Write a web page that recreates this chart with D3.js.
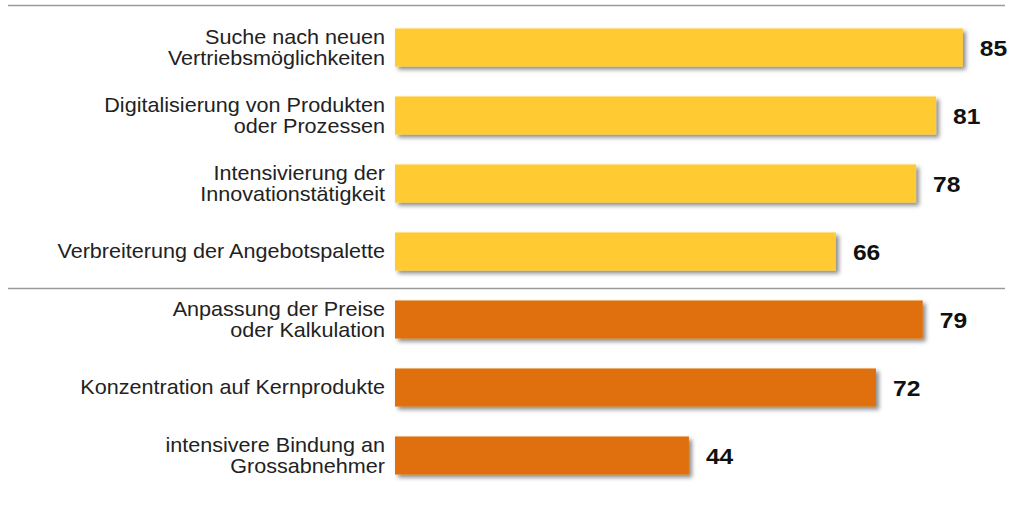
<!DOCTYPE html>
<html>
<head>
<meta charset="utf-8">
<script src="https://cdn.jsdelivr.net/npm/d3@7"></script>
<style>
  body { margin: 0; background: #fff; }
  svg { display: block; font-family: Arial, "Liberation Sans", sans-serif; }
</style>
</head>
<body>
<div id="chart"></div>
<script>
const categories = [
  ["Suche nach neuen", "Vertriebsmöglichkeiten"],
  ["Digitalisierung von Produkten", "oder Prozessen"],
  ["Intensivierung der", "Innovationstätigkeit"],
  ["Verbreiterung der Angebotspalette"],
  ["Anpassung der Preise", "oder Kalkulation"],
  ["Konzentration auf Kernprodukte"],
  ["intensivere Bindung an", "Grossabnehmer"]
];
const values = [85, 81, 78, 66, 79, 72, 44];
const groups = [0, 0, 0, 0, 1, 1, 1];
const groupColors = ["#FFCA33", "#E0700B"];

const width = 1009, height = 514;
const svg = d3.select("#chart").append("svg")
  .attr("width", width)
  .attr("height", height);

const defs = svg.append("defs");
defs.append("filter")
  .attr("id", "shadow")
  .attr("x", "-5%").attr("y", "-30%")
  .attr("width", "115%").attr("height", "190%")
  .append("feDropShadow")
  .attr("dx", 3).attr("dy", 3)
  .attr("stdDeviation", 2)
  .attr("flood-color", "#000")
  .attr("flood-opacity", 0.45);

const x = d3.scaleLinear().domain([0, 100]).range([395, 395 + 668]);
const y = d3.scaleBand()
  .domain(d3.range(values.length))
  .range([13.5, 13.5 + 68 * values.length])
  .paddingInner(0.44)
  .paddingOuter(0.22);

// separator lines
svg.selectAll("line.sep")
  .data([5.5, 288.5])
  .enter().append("line")
  .attr("class", "sep")
  .attr("x1", 8).attr("x2", 1005)
  .attr("y1", d => d).attr("y2", d => d)
  .attr("stroke", "#9a9a9a")
  .attr("stroke-width", 1.5);

const row = svg.selectAll("g.row")
  .data(values)
  .enter().append("g")
  .attr("class", "row");

row.append("rect")
  .attr("x", x(0))
  .attr("y", (d, i) => y(i))
  .attr("width", d => x(d) - x(0))
  .attr("height", y.bandwidth())
  .attr("fill", (d, i) => groupColors[groups[i]])
  .attr("filter", "url(#shadow)");

row.append("text")
  .attr("transform", (d, i) => `translate(${x(d) + 17},${y(i) + y.bandwidth() / 2 + 8}) scale(1.12,1)`)
  .attr("font-size", 22)
  .attr("font-weight", "bold")
  .attr("fill", "#111")
  .text(d => d);

row.append("text")
  .attr("transform", (d, i) => `translate(385,${y(i) + y.bandwidth() / 2}) scale(1.08,1)`)
  .attr("text-anchor", "end")
  .attr("font-size", 20)
  .attr("fill", "#222")
  .each(function(d, i) {
    const lines = categories[i];
    const t = d3.select(this);
    lines.forEach((l, j) => {
      t.append("tspan")
        .attr("x", 0)
        .attr("y", (j - (lines.length - 1) / 2) * 21 + 6.5)
        .text(l);
    });
  });
</script>
</body>
</html>
